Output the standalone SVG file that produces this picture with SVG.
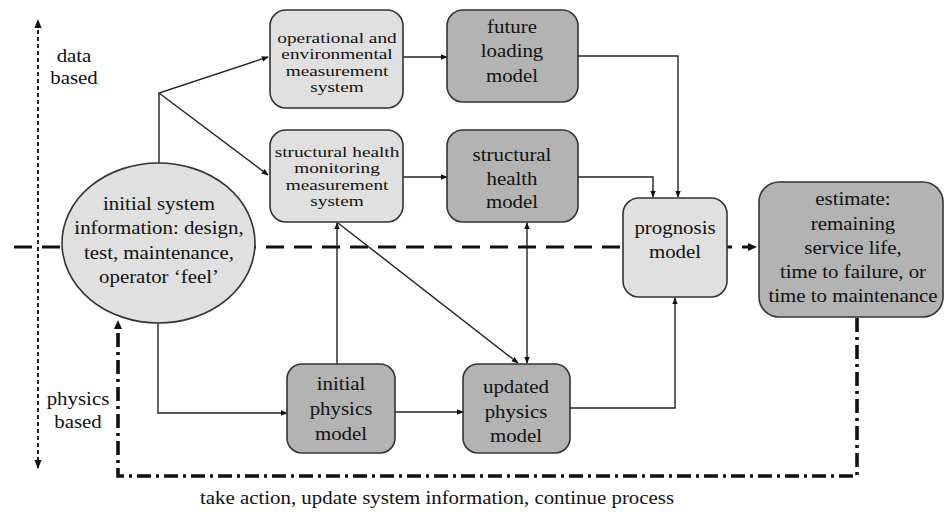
<svg xmlns="http://www.w3.org/2000/svg" width="944" height="512" viewBox="0 0 944 512">
<style>
text{font-family:'Liberation Serif','Times New Roman',serif;fill:#111;text-anchor:middle}
.s{font-size:14.5px}.b{font-size:18px}
.light{fill:#e0e0e0;stroke:#333;stroke-width:1.6}
.dark{fill:#b3b3b3;stroke:#333;stroke-width:1.6}
.c{fill:none;stroke:#222;stroke-width:1.4}
</style>
<defs>
<marker id="ah" viewBox="0 0 10 10" refX="9" refY="5" markerWidth="7" markerHeight="7" markerUnits="userSpaceOnUse" orient="auto-start-reverse"><path d="M0,1 L10,5 L0,9 z" fill="#111"/></marker>
<marker id="ahb" viewBox="0 0 10 10" refX="9" refY="5" markerWidth="9" markerHeight="9" markerUnits="userSpaceOnUse" orient="auto-start-reverse"><path d="M0,1 L10,5 L0,9 z" fill="#111"/></marker>
</defs>
<rect width="944" height="512" fill="#fff"/>

<g id="axis">
<line x1="38" y1="468" x2="38" y2="20" stroke="#222" stroke-width="2" stroke-dasharray="4,3" marker-start="url(#ahb)" marker-end="url(#ahb)"/>
<g transform="translate(74,0) scale(1.16,1)">
<text class="b" x="0" y="62">data</text>
<text class="b" x="0" y="84">based</text>
</g>
<g transform="translate(78,0) scale(1.16,1)">
<text class="b" x="0" y="405">physics</text>
<text class="b" x="0" y="428">based</text>
</g>
</g>

<g id="divider">
<line x1="14" y1="247" x2="752" y2="247" stroke="#111" stroke-width="3" stroke-dasharray="18,10"/>
<path d="M748,243 L757,247 L748,251 z" fill="#111"/>
</g>

<g id="connectors">
<polyline class="c" points="159,163 159,93 268,57" marker-end="url(#ah)"/>
<line class="c" x1="159" y1="93" x2="268" y2="175" marker-end="url(#ah)"/>
<line class="c" x1="403" y1="57" x2="447" y2="57" marker-end="url(#ah)"/>
<line class="c" x1="403" y1="177" x2="447" y2="177" marker-end="url(#ah)"/>
<polyline class="c" points="578,56 678,56 678,197" marker-end="url(#ah)"/>
<polyline class="c" points="578,177 653,177 653,197" marker-end="url(#ah)"/>
<polyline class="c" points="158,323 158,413 287,413" marker-end="url(#ah)"/>
<line class="c" x1="395" y1="412" x2="463" y2="412" marker-end="url(#ah)"/>
<line class="c" x1="337" y1="364" x2="337" y2="223" marker-end="url(#ah)"/>
<line class="c" x1="338" y1="223" x2="518" y2="363" marker-end="url(#ah)"/>
<line class="c" x1="527" y1="223" x2="527" y2="363" marker-start="url(#ah)" marker-end="url(#ah)"/>
<polyline class="c" points="570,408 675,408 675,298" marker-end="url(#ah)"/>
<polyline fill="none" stroke="#111" stroke-width="3.6" stroke-dasharray="14,5,3,5" points="857,318 857,476 118,476 118,328"/>
<path d="M114,329 L118,320 L122,329 z" fill="#111"/>
</g>

<g id="initial-info">
<ellipse class="light" cx="158.5" cy="243" rx="96.5" ry="80"/>
<g transform="translate(159,0) scale(1.16,1)">
<text class="b" x="0" y="210">initial system</text>
<text class="b" x="0" y="234">information: design,</text>
<text class="b" x="0" y="259">test, maintenance,</text>
<text class="b" x="0" y="283">operator ‘feel’</text>
</g>
</g>

<g id="op-env">
<rect class="light" x="270" y="10" width="133" height="98" rx="16"/>
<g transform="translate(337,0) scale(1.33,1)">
<text class="s" x="0" y="43">operational and</text>
<text class="s" x="0" y="59.5">environmental</text>
<text class="s" x="0" y="76">measurement</text>
<text class="s" x="0" y="92.5">system</text>
</g>
</g>

<g id="future-loading">
<rect class="dark" x="447" y="10" width="131" height="92" rx="16"/>
<g transform="translate(512,0) scale(1.16,1)">
<text class="b" x="0" y="33">future</text>
<text class="b" x="0" y="57">loading</text>
<text class="b" x="0" y="82">model</text>
</g>
</g>

<g id="shm">
<rect class="light" x="270" y="130" width="133" height="92" rx="16"/>
<g transform="translate(337,0) scale(1.33,1)">
<text class="s" x="0" y="157">structural health</text>
<text class="s" x="0" y="173.5">monitoring</text>
<text class="s" x="0" y="190">measurement</text>
<text class="s" x="0" y="206.5">system</text>
</g>
</g>

<g id="sh-model">
<rect class="dark" x="447" y="130" width="131" height="92" rx="16"/>
<g transform="translate(512,0) scale(1.16,1)">
<text class="b" x="0" y="161">structural</text>
<text class="b" x="0" y="185">health</text>
<text class="b" x="0" y="208">model</text>
</g>
</g>

<g id="prognosis">
<rect class="light" x="623" y="198" width="104" height="99" rx="16"/>
<g transform="translate(675,0) scale(1.16,1)">
<text class="b" x="0" y="234">prognosis</text>
<text class="b" x="0" y="258">model</text>
</g>
</g>

<g id="estimate">
<rect class="dark" x="759" y="182" width="184" height="135" rx="20"/>
<g transform="translate(853,0) scale(1.16,1)">
<text class="b" x="0" y="205">estimate:</text>
<text class="b" x="0" y="230">remaining</text>
<text class="b" x="0" y="254">service life,</text>
<text class="b" x="0" y="278">time to failure, or</text>
<text class="b" x="0" y="302">time to maintenance</text>
</g>
</g>

<g id="initial-physics">
<rect class="dark" x="287" y="364" width="108" height="89" rx="15"/>
<g transform="translate(341,0) scale(1.16,1)">
<text class="b" x="0" y="390">initial</text>
<text class="b" x="0" y="415">physics</text>
<text class="b" x="0" y="440">model</text>
</g>
</g>

<g id="updated-physics">
<rect class="dark" x="463" y="364" width="107" height="89" rx="15"/>
<g transform="translate(516,0) scale(1.16,1)">
<text class="b" x="0" y="393">updated</text>
<text class="b" x="0" y="418">physics</text>
<text class="b" x="0" y="442">model</text>
</g>
</g>

<g transform="translate(437,0) scale(1.16,1)">
<text class="b" x="0" y="504">take action, update system information, continue process</text>
</g>
</svg>
